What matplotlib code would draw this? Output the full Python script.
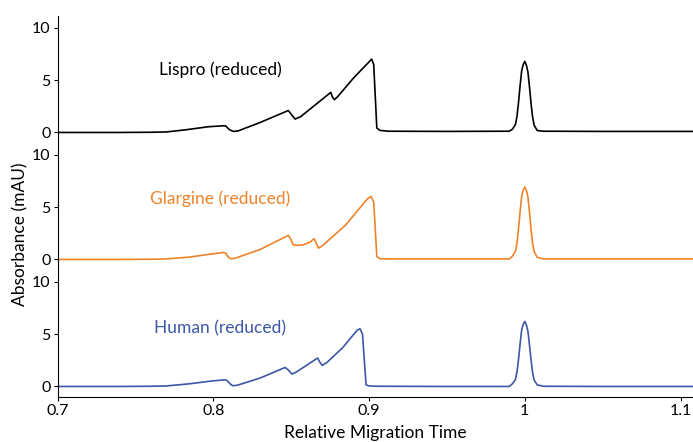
import matplotlib.pyplot as plt

plt.rcParams["font.family"] = ["Lato", "DejaVu Sans"]
plt.rcParams["font.size"] = 11

# Traces (relative migration time, absorbance mAU)
lispro_x = [0.70, 0.74, 0.76, 0.770, 0.782, 0.797, 0.8065, 0.8080, 0.8105, 0.8129, 0.8160,
            0.8300, 0.8482, 0.8500, 0.8525, 0.8560, 0.8754, 0.8765, 0.8777, 0.8800, 0.8900,
            0.9000, 0.9017, 0.9030, 0.9050, 0.9070, 0.912, 0.95, 0.990, 0.992, 0.994,
            0.995, 0.996, 0.997, 0.998, 0.999, 1.000, 1.001, 1.002, 1.003, 1.004,
            1.005, 1.006, 1.008, 1.012, 1.05, 1.11]
lispro_y = [0.0, 0.0, 0.02, 0.05, 0.25, 0.55, 0.64, 0.62, 0.25, 0.10, 0.15,
            0.95, 2.10, 1.75, 1.28, 1.50, 3.83, 3.40, 3.13, 3.45, 5.20,
            6.75, 7.02, 6.50, 0.42, 0.20, 0.12, 0.10, 0.12, 0.30, 0.75,
            1.55, 2.90, 4.50, 5.90, 6.50, 6.80, 6.45, 5.80, 4.40, 2.80,
            1.50, 0.70, 0.18, 0.12, 0.10, 0.10]

glargine_x = [0.70, 0.74, 0.76, 0.770, 0.785, 0.7976, 0.8065, 0.8080, 0.8095, 0.8112, 0.8140,
              0.8300, 0.8482, 0.8495, 0.8514, 0.8540, 0.8578, 0.8620, 0.8647, 0.8660, 0.8675,
              0.8700, 0.8850, 0.8990, 0.9013, 0.9030, 0.9050, 0.9070, 0.912, 0.95, 0.990,
              0.992, 0.994, 0.995, 0.996, 0.997, 0.998, 0.999, 1.000, 1.001, 1.002,
              1.003, 1.004, 1.005, 1.006, 1.008, 1.012, 1.05, 1.11]
glargine_y = [0.0, 0.0, 0.02, 0.05, 0.23, 0.50, 0.67, 0.60, 0.25, 0.07, 0.12,
              0.95, 2.30, 2.00, 1.40, 1.35, 1.40, 1.65, 1.98, 1.60, 1.09,
              1.30, 3.30, 5.80, 6.03, 5.50, 0.29, 0.07, 0.05, 0.05, 0.05,
              0.30, 0.78, 1.60, 2.95, 4.60, 6.05, 6.65, 6.93, 6.60, 6.00,
              4.55, 2.90, 1.55, 0.75, 0.20, 0.05, 0.05, 0.05]

human_x = [0.70, 0.74, 0.76, 0.770, 0.785, 0.7976, 0.8075, 0.8090, 0.8108, 0.8125, 0.8155,
           0.8300, 0.8461, 0.8480, 0.8504, 0.8530, 0.8670, 0.8685, 0.8700, 0.8730,
           0.8830, 0.8925, 0.8942, 0.8958, 0.8981, 0.9000, 0.906, 0.95, 0.990, 0.992,
           0.994, 0.995, 0.996, 0.997, 0.998, 0.999, 1.000, 1.001, 1.002, 1.003,
           1.004, 1.005, 1.006, 1.008, 1.012, 1.05, 1.11]
human_y = [0.0, 0.0, 0.02, 0.05, 0.26, 0.50, 0.64, 0.55, 0.25, 0.07, 0.12,
           0.80, 1.82, 1.60, 1.19, 1.35, 2.72, 2.30, 2.01, 2.30,
           3.70, 5.40, 5.52, 5.00, 0.16, 0.05, 0.02, 0.0, 0.0, 0.25,
           0.65, 1.40, 2.60, 4.10, 5.40, 5.95, 6.22, 5.90, 5.30, 4.00,
           2.55, 1.35, 0.62, 0.15, 0.02, 0.0, 0.0]

names = ["Lispro (reduced)", "Glargine (reduced)", "Human (reduced)"]
colors = ["#000000", "#F0832A", "#3D56A6"]
traces = [(lispro_x, lispro_y), (glargine_x, glargine_y), (human_x, human_y)]
label_y = [6.0, 5.8, 5.6]

fig = plt.figure(figsize=(6.93, 4.42), dpi=100)
left, bottom, top = 0.083, 0.102, 0.964
h = (top - bottom) / 3

for i, ((xs, ys), name, c) in enumerate(zip(traces, names, colors)):
    ax = fig.add_axes([left, top - (i + 1) * h, 1.0 - left, h])
    ax.plot(xs, ys, color=c, lw=1.2)
    ax.set_xlim(0.7, 1.108)
    ax.set_ylim(-1.0, 11.15)
    ax.set_yticks([0, 5, 10])
    ax.text(0.8044, label_y[i], name, color=c, ha="center", va="center", fontsize=12.5)
    ax.spines["top"].set_visible(False)
    ax.spines["right"].set_visible(False)
    ax.patch.set_visible(False)
    ax.tick_params(length=3, width=0.8, pad=2, labelsize=11.5)
    if i < 2:
        ax.spines["bottom"].set_visible(False)
        ax.set_xticks([])
    else:
        ax.set_xticks([0.7, 0.8, 0.9, 1.0, 1.1])
        ax.set_xticklabels(["0.7", "0.8", "0.9", "1", "1.1"])
        ax.set_xlabel("Relative Migration Time", fontsize=12.5, labelpad=5)

fig.text(0.03, 0.47, "Absorbance (mAU)", rotation=90, ha="center", va="center", fontsize=12.5)
fig.savefig("out.png", dpi=100)
